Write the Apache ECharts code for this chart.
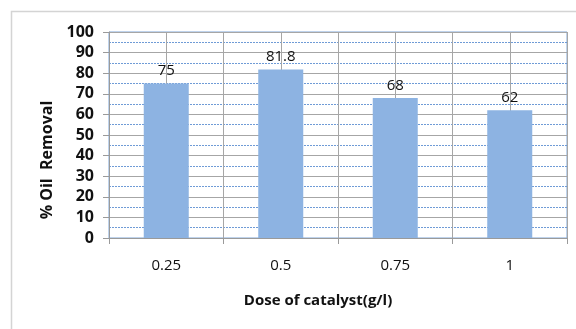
<!DOCTYPE html>
<html>
<head>
<meta charset="utf-8">
<script src="https://cdn.jsdelivr.net/npm/echarts@6/dist/echarts.min.js"></script>
<style>
html,body{margin:0;padding:0;background:#fff;}
#c{width:576px;height:329px;}
</style>
</head>
<body>
<div id="c"></div>
<script>
const categories = ['0.25', '0.5', '0.75', '1'];
const removal = [75, 81.8, 68, 62];
const labelTexts = ['75', '81.8', '68', '62'];
const yTicks = [0, 100, 10];
const xTitle = 'Dose of catalyst(g/l)';
const yTitle = '% Oil  Removal';

const chart = echarts.init(document.getElementById('c'), null, {renderer: 'canvas'});
const font = '"Open Sans", Lato, sans-serif';
chart.setOption({
  animation: false,
  backgroundColor: '#fff',
  grid: {left: 109, right: 9, top: 32, bottom: 91, show: true, borderColor: '#7ea6d8', borderWidth: 1, backgroundColor: 'transparent'},
  graphic: [
    {type: 'rect', left: 9, top: 9, shape: {x: 0, y: 0, width: 620, height: 400}, style: {fill: 'none', stroke: '#d4d4d4', lineWidth: 1.5}, silent: true, z: -10},
    {type: 'text', x: 47, y: 160, rotation: Math.PI / 2, style: {text: yTitle, font: 'bold 16px ' + font, fill: '#111', textAlign: 'center', textVerticalAlign: 'middle'}}
  ],
  xAxis: {
    type: 'category', data: categories, boundaryGap: true,
    axisLine: {lineStyle: {color: '#9a9a9a', width: 1}},
    axisTick: {show: true, length: 6, lineStyle: {color: '#9a9a9a'}},
    axisLabel: {fontFamily: font, fontSize: 15, color: '#111', margin: 20},
    splitLine: {show: true, lineStyle: {color: '#a6a6a6', width: 1}},
    name: xTitle, nameLocation: 'middle', nameGap: 55,
    nameTextStyle: {fontFamily: font, fontSize: 15, fontWeight: 'bold', color: '#111', padding: [0, 40, 0, 0]}
  },
  yAxis: {
    type: 'value', min: yTicks[0], max: yTicks[1], interval: yTicks[2],
    axisLine: {show: true, lineStyle: {color: '#9a9a9a', width: 1}},
    axisTick: {show: true, length: 6, lineStyle: {color: '#9a9a9a'}},
    axisLabel: {fontFamily: font, fontSize: 16, fontWeight: 'bold', color: '#111', margin: 15},
    splitLine: {show: true, lineStyle: {color: '#a6a6a6', width: 1}},
    minorTick: {show: false, splitNumber: 2},
    minorSplitLine: {show: true, lineStyle: {color: '#6f9bd6', width: 1, type: [2, 1]}}
  },
  series: [
    {
      type: 'line', data: [], z: 1, silent: true,
      markLine: {
        z: 1, silent: true, symbol: ['none', 'none'], label: {show: false},
        lineStyle: {color: '#a6a6a6', width: 1, type: 'solid'},
        emphasis: {disabled: true},
        data: categories.map(c => ({xAxis: c}))
      }
    },
    {
      type: 'bar', data: removal, barWidth: 45, z: 3,
      itemStyle: {color: '#8db3e2'},
      label: {show: true, position: 'top', distance: 5, fontFamily: font, fontSize: 15, color: '#111',
        formatter: p => labelTexts[p.dataIndex]}
    }
  ]
});
</script>
</body>
</html>
